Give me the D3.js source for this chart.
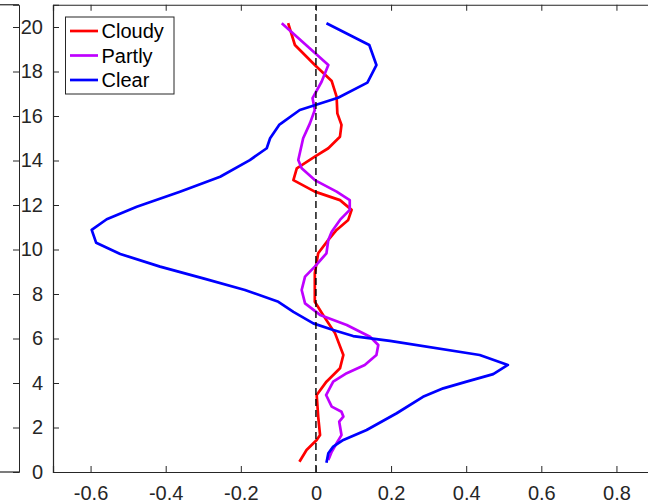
<!DOCTYPE html>
<html>
<head>
<meta charset="utf-8">
<script src="https://cdn.jsdelivr.net/npm/d3@7"></script>
<style>
  html, body { margin: 0; padding: 0; background: #fff; }
  svg { display: block; }
  text { font-family: "Liberation Sans", Arial, Helvetica, sans-serif; }
</style>
</head>
<body>
<svg id="chart" width="648" height="504"></svg>
<script>
// ---- data ----
const seriesNames = ["Cloudy", "Partly", "Clear"];
const seriesColors = ["#ff0000", "#bf00ff", "#0000ff"];

const cloudyAlt = [20.17,19.19,18.29,17.57,16.87,16.12,15.6,15.07,14.55,14.17,13.65,13.12,12.6,12.22,11.78,11.33,10.88,10.43,9.83,8.93,7.65,7.06,6.23,5.26,4.66,4.06,3.46,2.49,1.66,1.44,0.99,0.46];
const cloudyVal = [-0.074,-0.056,-0.003,0.042,0.055,0.057,0.068,0.064,0.033,-0.003,-0.051,-0.060,-0.003,0.064,0.095,0.086,0.055,0.033,0.006,-0.003,-0.003,0.019,0.051,0.073,0.064,0.028,0.002,0.006,0.011,0.002,-0.025,-0.044];

const partlyAlt = [20.17,18.29,17.54,16.8,16.27,15.67,15.0,14.02,13.65,13.12,12.6,12.22,11.78,11.33,10.8,10.43,9.83,9.23,8.78,8.18,7.58,7.06,6.61,6.08,5.71,5.26,4.81,4.44,4.06,3.46,2.94,2.71,2.49,2.26,1.66,1.29,0.91,0.54];
const partlyVal = [-0.091,0.033,0.015,-0.009,-0.003,-0.016,-0.034,-0.047,-0.038,-0.003,0.055,0.090,0.090,0.064,0.042,0.033,0.028,-0.003,-0.029,-0.038,-0.029,0.011,0.082,0.144,0.166,0.161,0.130,0.082,0.046,0.027,0.042,0.068,0.073,0.062,0.068,0.055,0.042,0.033];

const clearAlt = [20.17,19.19,18.29,17.5,16.82,16.27,15.6,15.0,14.55,14.02,13.27,12.6,11.92,11.36,10.88,10.3,9.8,9.23,8.7,8.18,7.65,7.2,6.68,6.38,6.11,5.89,5.26,4.81,4.40,4.06,3.76,3.38,2.64,1.89,1.44,1.14,0.84,0.42];
const clearVal = [0.028,0.142,0.161,0.137,0.059,-0.043,-0.098,-0.122,-0.131,-0.176,-0.255,-0.362,-0.477,-0.557,-0.597,-0.585,-0.521,-0.415,-0.30,-0.189,-0.10,-0.060,-0.007,0.046,0.099,0.197,0.436,0.511,0.472,0.401,0.339,0.285,0.215,0.135,0.073,0.046,0.033,0.028];

const xTicks = [-0.6,-0.4,-0.2,0,0.2,0.4,0.6,0.8];
const xTickLabels = ["-0.6","-0.4","-0.2","0","0.2","0.4","0.6","0.8"];
const yTicks = [0,2,4,6,8,10,12,14,16,18,20];
const yTickLabels = ["0","2","4","6","8","10","12","14","16","18","20"];

// ---- layout ----
const svg = d3.select("#chart");
const mLeft = 53, mRight = 654, mTop = 4.75, mBottom = 472;
const axisColor = "#262626";

const x = d3.scaleLinear().domain([-0.7, 0.9]).range([mLeft, mRight]);
const y = d3.scaleLinear().domain([0, 21]).range([mBottom, mTop]);

// fragment of a neighbouring subplot on the left
const fragX = 19;
const frag = svg.append("g");
frag.append("line").attr("x1", 0).attr("x2", fragX).attr("y1", mTop).attr("y2", mTop).attr("stroke", axisColor).attr("stroke-width", 1.2);
frag.append("line").attr("x1", 0).attr("x2", fragX).attr("y1", mBottom).attr("y2", mBottom).attr("stroke", axisColor).attr("stroke-width", 1.2);
const fragAxis = svg.append("g").attr("transform", `translate(${fragX},0)`)
  .call(d3.axisLeft(y).tickValues(yTicks).tickSize(6).tickFormat(""));
fragAxis.selectAll("path,line").attr("stroke", axisColor);

// clip
svg.append("defs").append("clipPath").attr("id", "clip")
  .append("rect").attr("x", mLeft).attr("y", mTop).attr("width", mRight - mLeft).attr("height", mBottom - mTop);

const plot = svg.append("g").attr("clip-path", "url(#clip)");

const line = d3.line().x(d => x(d[0])).y(d => y(d[1]));
const seriesData = [
  d3.zip(cloudyVal, cloudyAlt),
  d3.zip(partlyVal, partlyAlt),
  d3.zip(clearVal, clearAlt)
];
seriesData.forEach((pts, i) => {
  plot.append("path").datum(pts)
    .attr("d", line)
    .attr("fill", "none")
    .attr("stroke", seriesColors[i])
    .attr("stroke-width", 2.7)
    .attr("stroke-linejoin", "round");
});

// zero dashed line
plot.append("line")
  .attr("x1", x(0)).attr("x2", x(0)).attr("y1", y(0)).attr("y2", y(21))
  .attr("stroke", "#000").attr("stroke-width", 1.4).attr("stroke-dasharray", "7,4");

// axes
const fmtX = d => xTickLabels[xTicks.indexOf(d)];
const fmtY = d => yTickLabels[yTicks.indexOf(d)];

const gx = svg.append("g").attr("transform", `translate(0,${mBottom})`)
  .call(d3.axisBottom(x).tickValues(xTicks).tickSize(-6).tickPadding(14).tickFormat(fmtX));
const gxTop = svg.append("g").attr("transform", `translate(0,${mTop})`)
  .call(d3.axisTop(x).tickValues(xTicks).tickSize(-6).tickFormat(""));
const gy = svg.append("g").attr("transform", `translate(${mLeft},0)`)
  .call(d3.axisLeft(y).tickValues(yTicks).tickSize(-6).tickPadding(10).tickFormat(fmtY));
const gyR = svg.append("g").attr("transform", `translate(${mRight},0)`)
  .call(d3.axisRight(y).tickValues(yTicks).tickSize(-6).tickFormat(""));

[gx, gxTop, gy, gyR].forEach(g => {
  g.select(".domain").attr("stroke", axisColor).attr("stroke-width", 1.2);
  g.selectAll(".tick line").attr("stroke", axisColor).attr("stroke-width", 1);
  g.selectAll("text").attr("fill", axisColor).style("font-size", "20px")
    .style("font-family", "'Liberation Sans', Arial, Helvetica, sans-serif");
});

// legend
const leg = svg.append("g");
leg.append("rect").attr("x", 65.5).attr("y", 17).attr("width", 108.5).attr("height", 77)
  .attr("fill", "#fff").attr("stroke", axisColor).attr("stroke-width", 1);
const rowsY = [31, 55.5, 80];
seriesNames.forEach((name, i) => {
  leg.append("line").attr("x1", 70).attr("x2", 98).attr("y1", rowsY[i]).attr("y2", rowsY[i])
    .attr("stroke", seriesColors[i]).attr("stroke-width", 2.7);
  leg.append("text").attr("x", 101.5).attr("y", rowsY[i]).attr("dy", "0.35em")
    .attr("fill", "#000").style("font-size", "20px").text(name);
});
</script>
</body>
</html>
